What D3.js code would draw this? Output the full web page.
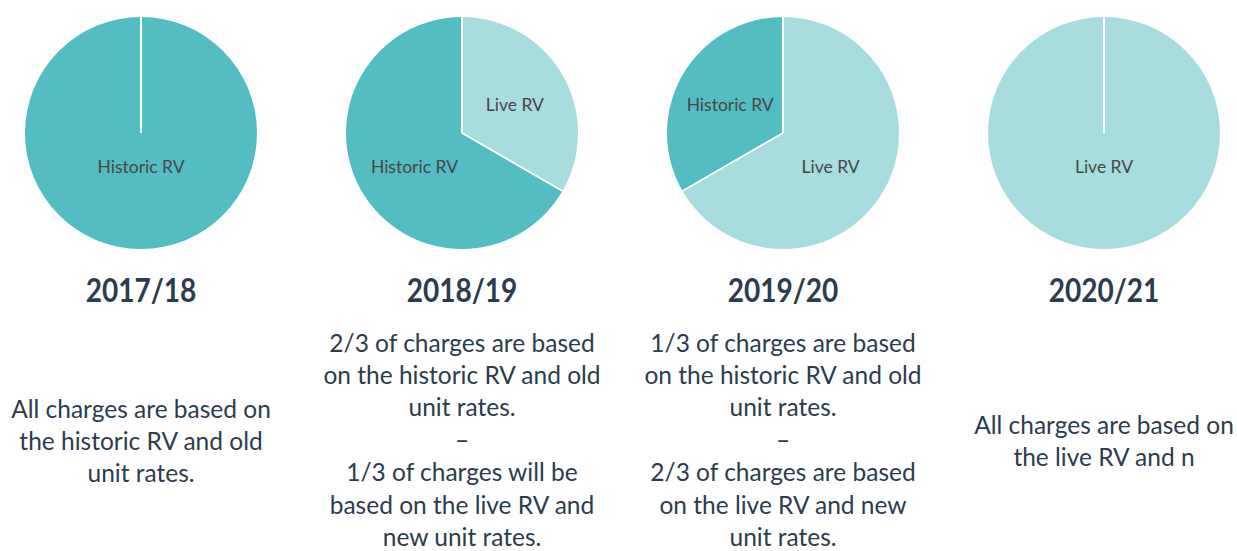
<!DOCTYPE html>
<html>
<head>
<meta charset="utf-8">
<script src="https://cdn.jsdelivr.net/npm/d3@7"></script>
<style>
  body { margin: 0; background: #fff; }
  svg { display: block; font-family: Lato, "Open Sans", sans-serif; }
  .slice-label { fill: #474747; font-size: 17.5px; }
  .year-title { fill: #2b3c4e; font-size: 33px; font-weight: 700; }
  .desc { fill: #2b3c4e; font-size: 24.5px; }
</style>
</head>
<body>
<div id="chart"></div>
<script>
// Data //////////////////////////////////////////////////////////////////
const years = ['2017/18', '2018/19', '2019/20', '2020/21'];
const sliceNames = ['Live RV', 'Historic RV'];
const liveShare = [0, 1/3, 2/3, 1];
const historicShare = [1, 2/3, 1/3, 0];

const descriptions = [
  ['All charges are based on', 'the historic RV and old', 'unit rates.'],
  ['2/3 of charges are based', 'on the historic RV and old', 'unit rates.', '–',
   '1/3 of charges will be', 'based on the live RV and', 'new unit rates.'],
  ['1/3 of charges are based', 'on the historic RV and old', 'unit rates.', '–',
   '2/3 of charges are based', 'on the live RV and new', 'unit rates.'],
  ['All charges are based on', 'the live RV and n']
];
// first text line (centre) of each description block
const descStartY = [408, 342, 342, 424];

// Layout ////////////////////////////////////////////////////////////////
const width = 1237, height = 551;
const radius = 116;
const pieY = 133;

const svg = d3.select('#chart').append('svg')
  .attr('width', width)
  .attr('height', height);

// column centres
const x = d3.scalePoint()
  .domain(years)
  .range([141, 1104]);

const color = d3.scaleOrdinal()
  .domain(sliceNames)
  .range(['#a8dde0', '#53bdc3']);

const pie = d3.pie().sort(null).value(d => d.value);
const arc = d3.arc().innerRadius(0).outerRadius(radius);
const labelArc = d3.arc().innerRadius(0).outerRadius(122);

years.forEach((year, i) => {
  const slices = [
    {name: 'Live RV', value: liveShare[i]},
    {name: 'Historic RV', value: historicShare[i]}
  ];
  const arcs = pie(slices).filter(d => d.data.value > 0);

  const g = svg.append('g')
    .attr('transform', `translate(${x(year)},${pieY})`);

  g.selectAll('path.slice')
    .data(arcs)
    .enter().append('path')
    .attr('class', 'slice')
    .attr('d', arc)
    .attr('fill', d => color(d.data.name));

  // white separators at each slice start
  g.selectAll('line.sep')
    .data(arcs)
    .enter().append('line')
    .attr('class', 'sep')
    .attr('x1', 0).attr('y1', 0)
    .attr('x2', d => radius * Math.sin(d.startAngle))
    .attr('y2', d => -radius * Math.cos(d.startAngle))
    .attr('stroke', '#fff')
    .attr('stroke-width', 2);

  g.selectAll('text.slice-label')
    .data(arcs)
    .enter().append('text')
    .attr('class', 'slice-label')
    .attr('text-anchor', 'middle')
    .attr('dominant-baseline', 'central')
    .attr('transform', d => {
      if (d.endAngle - d.startAngle >= 2 * Math.PI - 1e-6) return 'translate(0,33)';
      const c = labelArc.centroid(d);
      // big slice labels sit a bit lower and closer to the centre
      const big = (d.endAngle - d.startAngle) > Math.PI;
      const k = big ? 0.9 : 1;
      const dy = big ? 6 : 2;
      return `translate(${c[0] * k},${c[1] * k + dy})`;
    })
    .text(d => d.data.name);

  // condensed bold year heading
  svg.append('text')
    .attr('class', 'year-title')
    .attr('transform', `translate(${x(year)},290) scale(0.85,1)`)
    .attr('text-anchor', 'middle')
    .attr('dominant-baseline', 'central')
    .text(year);

  svg.append('g').selectAll('text')
    .data(descriptions[i])
    .enter().append('text')
    .attr('class', 'desc')
    .attr('x', x(year))
    .attr('y', (d, j) => descStartY[i] + j * 32.4)
    .attr('text-anchor', 'middle')
    .attr('dominant-baseline', 'central')
    .text(d => d);
});
</script>
</body>
</html>
